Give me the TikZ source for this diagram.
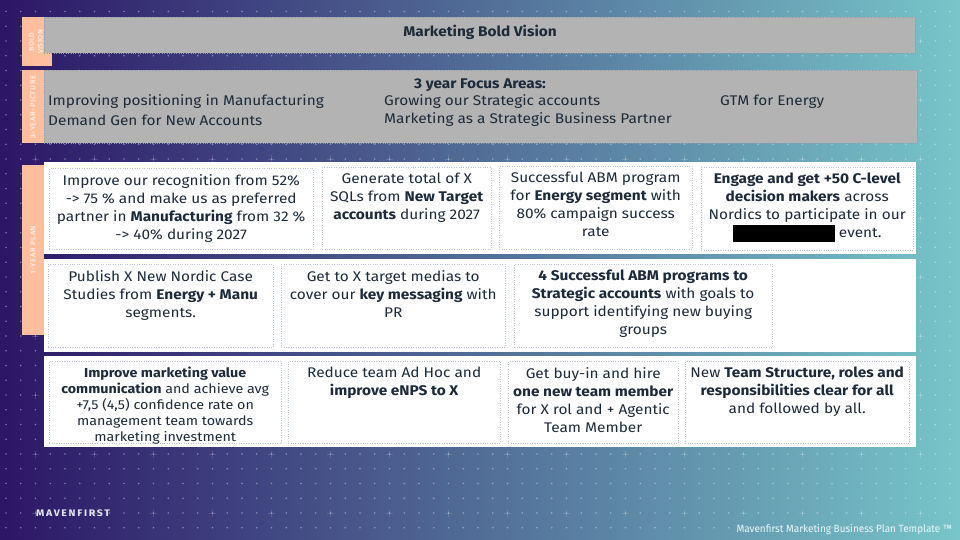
\documentclass[tikz,border=0pt]{standalone}
\usepackage{fontspec}
\setmainfont{Fira Sans}[FakeStretch=1.1]
\newfontfamily\footfont{Fira Sans}[FakeStretch=0.95]
\usepackage{xcolor}
\usetikzlibrary{positioning,calc}

\definecolor{bgleft}{HTML}{2C1666}
\definecolor{bgmid}{HTML}{4F6699}
\definecolor{bgright}{HTML}{77C5C9}
\definecolor{peach}{HTML}{FFBF9E}
\definecolor{boxgrey}{HTML}{B3B3B3}
\definecolor{greyline}{HTML}{8E9BAA}
\definecolor{inkdark}{HTML}{1C2A3A}
\definecolor{cellline}{HTML}{B8C4D6}

\tikzset{
    tab/.style={fill=peach, draw=none},
    greybox/.style={fill=boxgrey, draw=greyline, dotted, anchor=north west, inner sep=0},
    rowbox/.style={fill=white, draw=none, anchor=north west, inner sep=0},
    cell/.style={draw=cellline, dotted, anchor=north west, inner sep=0},
    celltext/.style={anchor=north, align=center, inner sep=0, text=inkdark,
        font=\fontsize{14}{18}\selectfont},
    focus/.style={anchor=west, inner sep=0, text=inkdark, font=\fontsize{14}{18}\selectfont},
    tablabel/.style={rotate=90, text=white, inner sep=0, align=center,
        font=\fontsize{7}{9}\selectfont\addfontfeature{LetterSpace=8}},
    griddot/.style={fill=white, opacity=0.4},
    gridmark/.style={draw=white, opacity=0.14, line width=0.8pt}
}

\begin{document}
\begin{tikzpicture}[x=1pt, y=-1pt]
    \useasboundingbox (0,0) rectangle (960,540);
    \shade[left color=bgleft, middle color=bgmid, right color=bgright] (0,0) rectangle (960,540);

    % dot grid
    \foreach \x in {6,20.75,...,955}
        \foreach \y in {11.5,26.25,...,535}
            \fill[griddot] (\x,\y) circle (0.9);
    \foreach \x in {35.5,94.5,...,955}
        \foreach \y in {41,100,...,535}
            \draw[gridmark] (\x-3.5,\y) -- (\x+3.5,\y) (\x,\y-3.5) -- (\x,\y+3.5);

    % tabs
    \fill[tab] (22,17) rectangle (52,66);
    \fill[tab] (22,70) rectangle (44,143);
    \fill[tab] (22,165) rectangle (44,335);
    \node[tablabel, font=\fontsize{6.5}{9}\selectfont\addfontfeature{LetterSpace=6}] (tabbold) at (36,42) {BOLD\\VISION};
    \node[tablabel] (tabthree) at (33,107) {3-YEAR-PICTURE};
    \node[tablabel] (tabone) at (33,250) {1-YEAR PLAN};

    % bold vision
    \node[greybox, minimum width=871, minimum height=36] (vision) at (44,17) {};
    \node[text=inkdark, font=\fontsize{14}{16}\selectfont\bfseries] (visiontitle) at (480,32) {Marketing Bold Vision};

    % 3 year focus areas
    \node[greybox, minimum width=873, minimum height=73] (focusbox) at (44,70) {};
    \node[text=inkdark, font=\fontsize{14}{16}\selectfont\bfseries] (focustitle) at (480,85) {3 year Focus Areas:};
    \node[focus] (fa) at (48,102) {Improving positioning in Manufacturing};
    \node[focus] (fb) at (48,120) {Demand Gen for New Accounts};
    \node[focus] (fc) at (384,102) {Growing our Strategic accounts};
    \node[focus] (fd) at (384,120) {Marketing as a Strategic Business Partner};
    \node[focus] (fe) at (720,102) {GTM for Energy};

    % 1 year plan rows
    \node[rowbox, minimum width=872, minimum height=92] (rowa) at (44,162) {};
    \node[rowbox, minimum width=872, minimum height=93] (rowb) at (44,259) {};
    \node[rowbox, minimum width=872, minimum height=91] (rowc) at (44,356) {};

    % row 1
    \node[cell, minimum width=264, minimum height=81] (ca) at (49,168) {};
    \node[cell, minimum width=169, minimum height=82] (cb) at (322,167) {};
    \node[cell, minimum width=193, minimum height=83] (cc) at (499,166) {};
    \node[cell, minimum width=212, minimum height=83] (cd) at (701,167) {};
    \node[celltext] (ta) at ([yshift=-6]ca.north) {Improve our recognition from 52\%\\-> 75 \% and make us as preferred\\partner in \textbf{Manufacturing} from 32 \%\\-> 40\% during 2027};
    \node[celltext] (tb) at ([yshift=-6]cb.north) {Generate total of X\\SQLs from \textbf{New Target}\\\textbf{accounts} during 2027};
    \node[celltext] (tc) at ([yshift=-6]cc.north) {Successful ABM program\\for \textbf{Energy segment} with\\80\% campaign success\\rate};
    \node[celltext] (td) at ([yshift=-6]cd.north) {\textbf{Engage and get +50 C-level}\\\textbf{decision makers} across\\Nordics to participate in our\\{\color{black}\rule[-4pt]{102pt}{17pt}} event.};

    % row 2
    \node[cell, minimum width=225, minimum height=83] (ce) at (48,264) {};
    \node[cell, minimum width=224, minimum height=83] (cf) at (281,264) {};
    \node[cell, minimum width=258, minimum height=83] (cg) at (514,264) {};
    \node[celltext] (te) at ([yshift=-6]ce.north) {Publish X New Nordic Case\\Studies from \textbf{Energy + Manu}\\segments.};
    \node[celltext] (tf) at ([yshift=-6]cf.north) {Get to X target medias to\\cover our \textbf{key messaging} with\\PR};
    \node[celltext] (tg) at ([yshift=-6]cg.north) {\textbf{4 Successful ABM programs to}\\\textbf{Strategic accounts} with goals to\\support identifying new buying\\groups};

    % row 3
    \node[cell, minimum width=232, minimum height=82] (ch) at (49,361) {};
    \node[cell, minimum width=212, minimum height=82] (ci) at (288,361) {};
    \node[cell, minimum width=170, minimum height=82] (cj) at (508,361) {};
    \node[cell, minimum width=224, minimum height=82] (ck) at (685,361) {};
    \node[celltext, font=\fontsize{13}{16}\selectfont] (th) at ([yshift=-6]ch.north) {\textbf{Improve marketing value}\\\textbf{communication} and achieve avg\\+7,5 (4,5) confidence rate on\\management team towards\\marketing investment};
    \node[celltext] (ti) at ([yshift=-6]ci.north) {Reduce team Ad Hoc and\\\textbf{improve eNPS to X}};
    \node[celltext] (tj) at ([yshift=-6]cj.north) {Get buy-in and hire\\\textbf{one new team member}\\for X rol and + Agentic\\Team Member};
    \node[celltext] (tk) at ([yshift=-6]ck.north) {New \textbf{Team Structure, roles and}\\\textbf{responsibilities clear for all}\\and followed by all.};

    % footer
    \node[anchor=west, inner sep=0, text=white!85!bgmid, font=\fontsize{9.5}{11}\selectfont\bfseries\addfontfeature{LetterSpace=18}] (brand) at (36,513) {MAVENFIRST};
    \node[anchor=east, inner sep=0, text=white!85!bgright, font=\footfont\fontsize{10.5}{12}\selectfont] (footer) at (952,530) {Mavenfirst Marketing Business Plan Template ™};
\end{tikzpicture}
\end{document}
